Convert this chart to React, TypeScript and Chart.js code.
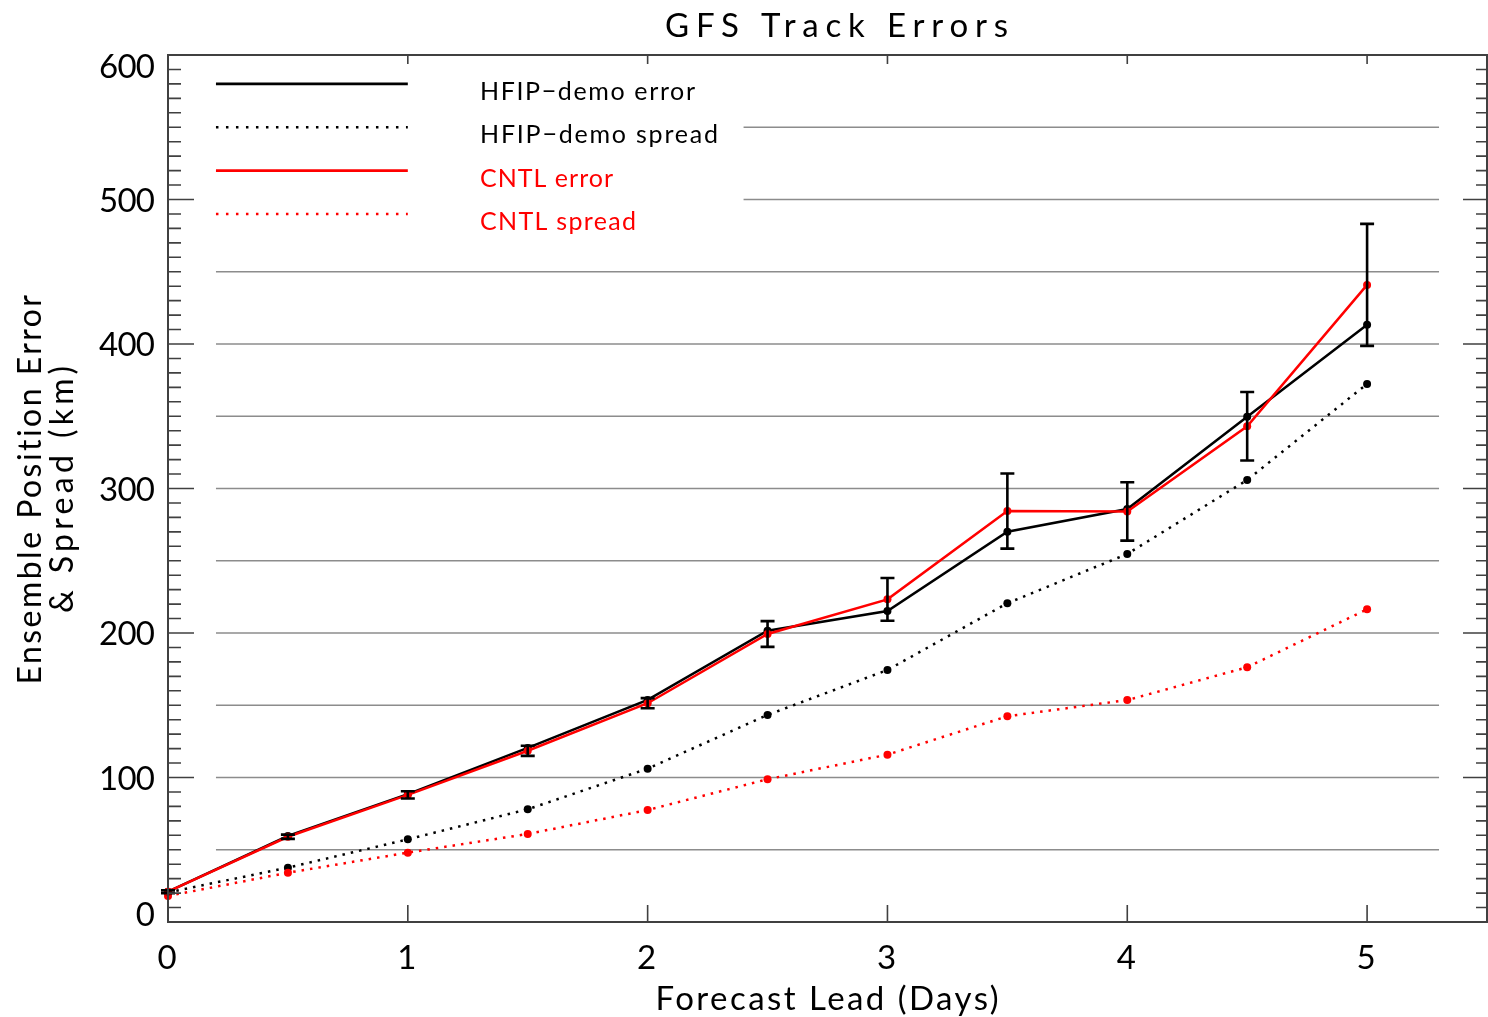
import React, { useEffect, useRef } from "react";
import { Chart, registerables } from "chart.js";

Chart.register(...registerables);

// ---------- data ----------
const leadDays = [0, 0.5, 1, 1.5, 2, 2.5, 3, 3.5, 4, 4.5, 5];
const hfipError = [21, 59.5, 88.5, 120.5, 153.7, 201.6, 215.2, 270.1, 285.8, 349.6, 413.4];
const cntlError = [21, 59, 88, 118.5, 151.4, 199.3, 223.3, 284.4, 284.1, 343.1, 440.9];
const hfipSpread = [20.5, 37.6, 57.2, 78.0, 106.1, 143.3, 174.4, 220.6, 254.7, 305.9, 372.4];
const cntlSpread = [18, 34.1, 48.0, 60.9, 77.5, 98.8, 115.8, 142.4, 153.6, 176.3, 216.4];
const errorHalfWidth = [1, 1.5, 2.5, 3.5, 3.5, 8.9, 14.8, 26, 20.2, 23.7, 42.2];

const xTickValues = [0, 1, 2, 3, 4, 5];
const yTickValues = [0, 100, 200, 300, 400, 500, 600];
const gridValues = [50, 100, 150, 200, 250, 300, 350, 400, 450, 500, 550];

const legendLabels = ["HFIP\u2212demo error", "HFIP\u2212demo spread", "CNTL error", "CNTL spread"];
const legendColors = ["#000000", "#000000", "#ff0000", "#ff0000"];
const legendDotted = [false, true, false, true];
const legendYValues = [580, 550, 520, 490];

const titleText = "GFS Track Errors";
const xTitleText = "Forecast Lead (Days)";
const yTitleLines = ["Ensemble Position Error", "& Spread (km)"];

const FONT = '"Lato", "DejaVu Sans", sans-serif';

function spacedText(
  ctx: CanvasRenderingContext2D,
  text: string,
  x: number,
  y: number,
  size: number,
  color: string,
  width: number | null,
  align: "left" | "center" | "right"
) {
  ctx.save();
  ctx.font = `${size}px ${FONT}`;
  ctx.fillStyle = color;
  ctx.textBaseline = "alphabetic";
  const anyCtx = ctx as any;
  const hasLS = "letterSpacing" in anyCtx;
  if (hasLS) anyCtx.letterSpacing = "0px";
  const natural = ctx.measureText(text).width;
  let sp = 0;
  if (hasLS && width && text.length > 1) sp = (width - natural) / (text.length - 1);
  if (hasLS) anyCtx.letterSpacing = `${sp}px`;
  const total = natural + sp * (text.length - 1);
  const sx = align === "left" ? x : align === "center" ? x - total / 2 : x - total;
  ctx.textAlign = "left";
  ctx.fillText(text, sx, y);
  ctx.restore();
}

const framePlugin = {
  id: "idlFrame",
  beforeDatasetsDraw(chart: any) {
    const { ctx, scales } = chart;
    const xs = scales.x;
    const ys = scales.y;
    ctx.save();
    ctx.strokeStyle = "#8c8c8c";
    ctx.lineWidth = 1.6;
    gridValues.forEach((v) => {
      const x0 = xs.getPixelForValue(v >= 500 ? 2.4 : 0.2);
      const x1 = xs.getPixelForValue(5.3);
      const py = ys.getPixelForValue(v);
      ctx.beginPath();
      ctx.moveTo(x0, py);
      ctx.lineTo(x1, py);
      ctx.stroke();
    });
    ctx.restore();
  },
  afterDatasetsDraw(chart: any) {
    const { ctx, scales, chartArea } = chart;
    const xs = scales.x;
    const ys = scales.y;
    const { left, right, top, bottom } = chartArea;

    // error bars (black, centred on CNTL error)
    ctx.save();
    ctx.strokeStyle = "#000";
    ctx.lineWidth = 2.6;
    leadDays.forEach((d, i) => {
      const px = xs.getPixelForValue(d);
      const yt = ys.getPixelForValue(cntlError[i] + errorHalfWidth[i]);
      const yb = ys.getPixelForValue(cntlError[i] - errorHalfWidth[i]);
      ctx.beginPath();
      ctx.moveTo(px, yt);
      ctx.lineTo(px, yb);
      ctx.moveTo(px - 7, yt);
      ctx.lineTo(px + 7, yt);
      ctx.moveTo(px - 7, yb);
      ctx.lineTo(px + 7, yb);
      ctx.stroke();
    });
    ctx.restore();

    // frame
    ctx.save();
    ctx.strokeStyle = "#404040";
    ctx.lineWidth = 2;
    ctx.strokeRect(left, top, right - left, bottom - top);
    ctx.lineWidth = 1.6;
    ctx.beginPath();
    for (let v = 0; v <= 600; v += 10) {
      const py = ys.getPixelForValue(v);
      const major = v % 100 === 0;
      ctx.moveTo(left, py);
      ctx.lineTo(left + (major ? 26 : 13), py);
      ctx.moveTo(right, py);
      ctx.lineTo(right - (major ? 24 : 11), py);
    }
    xTickValues.forEach((d) => {
      const px = xs.getPixelForValue(d);
      ctx.moveTo(px, bottom);
      ctx.lineTo(px, bottom - 17);
      ctx.moveTo(px, top);
      ctx.lineTo(px, top + 9);
    });
    ctx.stroke();
    ctx.restore();

    // tick labels
    yTickValues.forEach((v) => {
      let cy = ys.getPixelForValue(v);
      if (v === 0) cy -= 8;
      if (v === 600) cy += 11;
      spacedText(ctx, String(v), 155, cy + 12, 33, "#000", String(v).length * 18.7, "right");
    });
    xTickValues.forEach((d) => {
      const px = xs.getPixelForValue(d);
      spacedText(ctx, String(d), px - 1, 969, 33, "#000", null, "center");
    });

    // titles
    spacedText(ctx, titleText, 836.5, 37, 33, "#000", 343, "center");
    spacedText(ctx, xTitleText, 827, 1010, 33, "#000", 343, "center");
    const yCenter = (top + bottom) / 2;
    const yBaselines = [41, 73];
    const yWidths = [390, 247];
    yTitleLines.forEach((line, i) => {
      ctx.save();
      ctx.translate(yBaselines[i], yCenter + 1);
      ctx.rotate(-Math.PI / 2);
      spacedText(ctx, line, 0, 0, 32, "#000", yWidths[i], "center");
      ctx.restore();
    });

    // legend
    const legendWidths = [215, 238, 133, 156];
    legendLabels.forEach((label, i) => {
      const py = ys.getPixelForValue(legendYValues[i]);
      const x0 = xs.getPixelForValue(0.2);
      const x1 = xs.getPixelForValue(1.0);
      ctx.save();
      ctx.strokeStyle = legendColors[i];
      ctx.lineWidth = legendDotted[i] ? 2.5 : 2.6;
      if (legendDotted[i]) ctx.setLineDash([2.5, 7.5]);
      ctx.beginPath();
      ctx.moveTo(x0, py);
      ctx.lineTo(x1, py);
      ctx.stroke();
      ctx.restore();
      spacedText(ctx, label, 480, py + 16, 25, legendColors[i], legendWidths[i], "left");
    });
  },
};

function series(values: number[]) {
  return leadDays.map((d, i) => ({ x: d, y: values[i] }));
}

export default function App() {
  const ref = useRef<HTMLCanvasElement>(null);
  useEffect(() => {
    document.body.style.margin = "0";
    const common = {
      borderWidth: 2.5,
      pointRadius: 4,
      pointBorderWidth: 0,
      pointHoverRadius: 4,
      tension: 0,
      clip: false as any,
    };
    const chart = new Chart(ref.current as HTMLCanvasElement, {
      type: "line",
      data: {
        datasets: [
          {
            label: "CNTL error",
            data: series(cntlError),
            borderColor: "#ff0000",
            backgroundColor: "#ff0000",
            pointBackgroundColor: "#ff0000",
            order: 0,
            ...common,
          },
          {
            label: "HFIP-demo error",
            data: series(hfipError),
            borderColor: "#000000",
            backgroundColor: "#000000",
            pointBackgroundColor: "#000000",
            order: 1,
            ...common,
          },
          {
            label: "CNTL spread",
            data: series(cntlSpread),
            borderColor: "#ff0000",
            backgroundColor: "#ff0000",
            pointBackgroundColor: "#ff0000",
            borderDash: [2.5, 6],
            order: 2,
            ...common,
          },
          {
            label: "HFIP-demo spread",
            data: series(hfipSpread),
            borderColor: "#000000",
            backgroundColor: "#000000",
            pointBackgroundColor: "#000000",
            borderDash: [2.5, 6],
            order: 3,
            ...common,
          },
        ],
      },
      options: {
        animation: false,
        responsive: false,
        devicePixelRatio: 1,
        layout: { autoPadding: false, padding: { left: 168, right: 1, top: 55, bottom: 95 } },
        scales: {
          x: { type: "linear", min: 0, max: 5.5, display: false },
          y: { type: "linear", min: 0, max: 600, display: false },
        },
        plugins: {
          legend: { display: false },
          tooltip: { enabled: false },
          title: { display: false },
        },
        events: [],
      },
      plugins: [framePlugin],
    });
    return () => chart.destroy();
  }, []);
  return (
    <div style={{ position: "fixed", left: 0, top: 0, width: 1488, height: 1017, background: "#fff" }}>
      <canvas ref={ref} width={1488} height={1017} style={{ width: 1488, height: 1017, display: "block" }} />
    </div>
  );
}
